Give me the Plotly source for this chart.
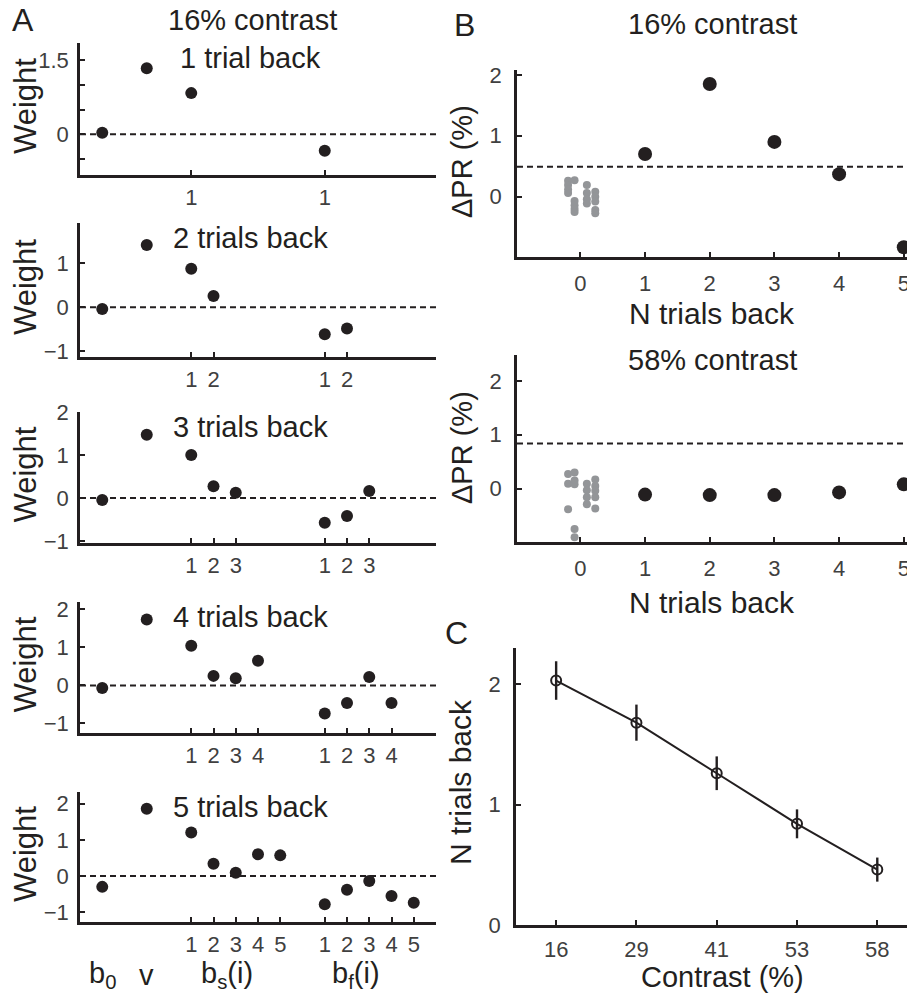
import plotly.graph_objects as go

# ---------------- data ----------------
# Panel A: regression weights (16% contrast), models with 1..5 trials back
b0_w = [0.03, -0.04, -0.05, -0.07, -0.30]
v_w = [1.33, 1.42, 1.47, 1.73, 1.86]
bs_w = [
    [0.83],
    [0.88, 0.26],
    [1.00, 0.27, 0.12],
    [1.04, 0.25, 0.19, 0.65],
    [1.20, 0.34, 0.09, 0.60, 0.57],
]
bf_w = [
    [-0.33],
    [-0.61, -0.48],
    [-0.58, -0.42, 0.16],
    [-0.74, -0.46, 0.22, -0.46],
    [-0.78, -0.38, -0.14, -0.55, -0.74],
]
a_titles = ["1 trial back", "2 trials back", "3 trials back", "4 trials back", "5 trials back"]
a_yranges = [[-0.82, 1.84], [-1.13, 1.92], [-1.05, 2.0], [-1.25, 2.19], [-1.27, 2.32]]
a_yticks = [[0, 1.5], [-1, 0, 1], [-1, 0, 1, 2], [-1, 0, 1, 2], [-1, 0, 1, 2]]
a_yticktext = [["0", "1.5"], ["−1", "0", "1"], ["−1", "0", "1", "2"],
               ["−1", "0", "1", "2"], ["−1", "0", "1", "2"]]
a_yminor = [[-0.5, 0.5, 1.0], [], [], [], []]
a_zero = 0.0

# Panel B: change in performance vs N trials back
n_back = [1, 2, 3, 4, 5]
dpr16 = [0.70, 1.85, 0.90, 0.37, -0.83]
dpr58 = [-0.11, -0.12, -0.12, -0.07, 0.08]
thr16 = 0.49
thr58 = 0.84
null16_x = [-0.19, -0.19, -0.19, -0.19, -0.09, -0.09, -0.09, -0.09, -0.09,
            0.10, 0.10, 0.10, 0.10, 0.23, 0.23, 0.23, 0.23, 0.23]
null16_y = [0.26, 0.19, 0.12, 0.06, 0.27, -0.07, -0.14, -0.20, -0.25,
            0.19, 0.06, -0.04, -0.11, 0.08, 0.00, -0.08, -0.22, -0.27]
null58_x = [-0.19, -0.19, -0.19, -0.09, -0.09, -0.09, -0.09, -0.09,
            0.10, 0.10, 0.10, 0.10, 0.23, 0.23, 0.23, 0.23, 0.23]
null58_y = [0.27, 0.09, -0.38, 0.30, 0.15, 0.08, -0.75, -0.90,
            0.09, -0.03, -0.16, -0.29, 0.17, 0.05, -0.04, -0.16, -0.37]

# Panel C: N trials back vs contrast
contrast = ["16", "29", "41", "53", "58"]
ntb = [2.03, 1.68, 1.26, 0.84, 0.46]
ntb_err = [0.16, 0.15, 0.14, 0.12, 0.10]

# ---------------- style ----------------
W, H = 907, 994
FONT = "Liberation Sans, Arial, Helvetica, sans-serif"
INK = "#231f20"
TICKC = "#404040"
GRAY = "#939598"


def px(p):
    return p / W


def py(p):
    return 1 - p / H


fig = go.Figure()
layout = dict(
    template="none",
    width=W, height=H, autosize=False,
    margin=dict(l=0, r=0, t=0, b=0, pad=0),
    paper_bgcolor="white", plot_bgcolor="white",
    showlegend=False,
    font=dict(family=FONT, color=INK),
)
annotations = []
shapes = []


def axis_style(**kw):
    d = dict(showline=True, linecolor=INK, linewidth=2.5, mirror=False,
             ticks="inside", ticklen=5, tickwidth=2, tickcolor=INK,
             showgrid=False, zeroline=False, automargin=False,
             ticklabeloverflow="allow",
             tickfont=dict(family=FONT, size=22, color=TICKC))
    d.update(kw)
    return d


# Panel A layout (pixel bounds)
a_x = [80, 436]
a_y = [(43, 175), (223, 357), (412, 543), (602, 733), (792, 922)]
B0_POS, V_POS, BS0, BF0 = 1, 3, 4, 10

for k in range(5):
    i = k + 1
    xa = "x" if i == 1 else f"x{i}"
    ya = "y" if i == 1 else f"y{i}"
    n = len(bs_w[k])
    xs = [B0_POS, V_POS] + [BS0 + j + 1 for j in range(n)] + [BF0 + j + 1 for j in range(n)]
    ys = [b0_w[k], v_w[k]] + bs_w[k] + bf_w[k]
    fig.add_trace(go.Scatter(x=xs, y=ys, mode="markers", xaxis=xa, yaxis=ya,
                             marker=dict(size=12, color=INK), cliponaxis=False))
    tv = [BS0 + j + 1 for j in range(n)] + [BF0 + j + 1 for j in range(n)]
    tt = [str(j + 1) for j in range(n)] * 2
    top, bot = a_y[k]
    layout[f"xaxis{i}"] = axis_style(domain=[px(a_x[0]), px(a_x[1])], anchor=ya,
                                     range=[0, 16], tickvals=tv, ticktext=tt,
                                     ticklabelstandoff=1)
    yax = axis_style(domain=[py(bot), py(top)], anchor=xa,
                     range=a_yranges[k], tickvals=a_yticks[k],
                     ticktext=a_yticktext[k], ticklabelstandoff=4)
    if a_yminor[k]:
        yax["minor"] = dict(tickvals=a_yminor[k], ticks="inside", ticklen=5,
                            tickwidth=2, tickcolor=INK, showgrid=False)
    layout[f"yaxis{i}"] = yax
    shapes.append(dict(type="line", xref=f"{xa} domain", yref=ya, x0=0, x1=1,
                       y0=a_zero, y1=a_zero, layer="below",
                       line=dict(color=INK, width=2, dash="6px,4px")))
    annotations.append(dict(text=a_titles[k], xref="paper", yref="paper",
                            x=px(250), y=py(top + 15), xanchor="center", yanchor="middle",
                            showarrow=False, font=dict(size=29, color=INK)))
    annotations.append(dict(text="Weight", xref="paper", yref="paper",
                            x=px(25), y=py((top + bot) / 2 - 3), textangle=-90,
                            xanchor="center", yanchor="middle", showarrow=False,
                            font=dict(size=31, color=INK)))

annotations.append(dict(text="16% contrast", xref="paper", yref="paper",
                        x=px(252), y=py(20), xanchor="center", yanchor="middle",
                        showarrow=False, font=dict(size=29, color=INK)))
# group labels under panel A
for txt, xv in [("b<sub>0</sub>", 1.0), ("v", 3.0), ("b<sub>s</sub>(i)", 6.6), ("b<sub>f</sub>(i)", 12.4)]:
    annotations.append(dict(text=txt, xref="x5", yref="paper", x=xv, y=py(975),
                            xanchor="center", yanchor="middle", showarrow=False,
                            font=dict(size=29, color=INK)))

# Panel B
b_x = [517, 907]
b_panels = [
    (6, (70, 257), [-0.99, 2.08], dpr16, thr16, null16_x, null16_y, "16% contrast", 24, 314, 162),
    (7, (355, 542), [-0.99, 2.48], dpr58, thr58, null58_x, null58_y, "58% contrast", 360, 602, 448),
]
for (i, (top, bot), yr, vals, thr, nx, ny, title, ty, xty, yty) in b_panels:
    xa, ya = f"x{i}", f"y{i}"
    fig.add_trace(go.Scatter(x=nx, y=ny, mode="markers", xaxis=xa, yaxis=ya,
                             marker=dict(size=8, color=GRAY), cliponaxis=False))
    fig.add_trace(go.Scatter(x=n_back, y=vals, mode="markers", xaxis=xa, yaxis=ya,
                             marker=dict(size=14, color=INK), cliponaxis=False))
    layout[f"xaxis{i}"] = axis_style(domain=[px(b_x[0]), px(b_x[1])], anchor=ya,
                                     range=[-0.98, 5.05], tickvals=[0, 1, 2, 3, 4, 5],
                                     ticklabelstandoff=5)
    layout[f"yaxis{i}"] = axis_style(domain=[py(bot), py(top)], anchor=xa,
                                     range=yr, tickvals=[0, 1, 2], ticklabelstandoff=8)
    shapes.append(dict(type="line", xref=f"{xa} domain", yref=ya, x0=0, x1=1,
                       y0=thr, y1=thr, layer="below",
                       line=dict(color=INK, width=2, dash="6px,4px")))
    annotations.append(dict(text=title, xref="paper", yref="paper",
                            x=px(712), y=py(ty), xanchor="center", yanchor="middle",
                            showarrow=False, font=dict(size=29, color=INK)))
    annotations.append(dict(text="N trials back", xref="paper", yref="paper",
                            x=px(712), y=py(xty), xanchor="center", yanchor="middle",
                            showarrow=False, font=dict(size=30, color=INK)))
    annotations.append(dict(text="ΔPR (%)", xref="paper", yref="paper",
                            x=px(462), y=py(yty), textangle=-90,
                            xanchor="center", yanchor="middle", showarrow=False,
                            font=dict(size=29, color=INK)))

# Panel C
fig.add_trace(go.Scatter(x=contrast, y=ntb, mode="lines+markers", xaxis="x8", yaxis="y8",
                         line=dict(color=INK, width=2),
                         marker=dict(size=10, symbol="circle-open", color=INK,
                                     line=dict(width=2, color=INK)),
                         error_y=dict(type="data", array=ntb_err, visible=True,
                                      color=INK, thickness=2.4, width=0),
                         cliponaxis=False))
layout["xaxis8"] = axis_style(domain=[px(516), px(907)], anchor="y8", type="category",
                              range=[-0.5, 4.37], ticklabelstandoff=3)
layout["yaxis8"] = axis_style(domain=[py(925), py(648)], anchor="x8",
                              range=[0, 2.30], tickvals=[0, 1, 2], ticklabelstandoff=8)
annotations.append(dict(text="Contrast (%)", xref="paper", yref="paper",
                        x=px(722), y=py(977), xanchor="center", yanchor="middle",
                        showarrow=False, font=dict(size=29, color=INK)))
annotations.append(dict(text="N trials back", xref="paper", yref="paper",
                        x=px(460), y=py(782), textangle=-90,
                        xanchor="center", yanchor="middle", showarrow=False,
                        font=dict(size=30, color=INK)))

# panel letters
for txt, x0, y0 in [("A", 23, 20), ("B", 464, 25), ("C", 456, 633)]:
    annotations.append(dict(text=txt, xref="paper", yref="paper", x=px(x0), y=py(y0),
                            xanchor="center", yanchor="middle", showarrow=False,
                            font=dict(size=32, color=INK)))

layout["annotations"] = annotations
layout["shapes"] = shapes
fig.update_layout(**layout)
fig.write_html("out.html")
